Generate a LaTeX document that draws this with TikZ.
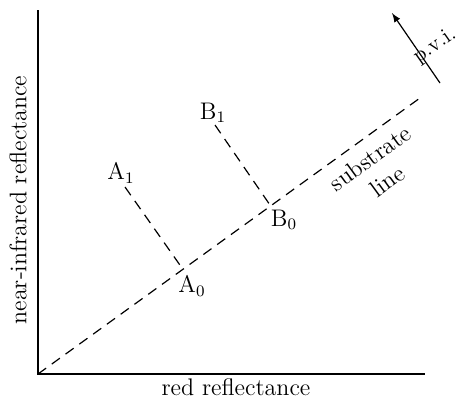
\documentclass[tikz,border=0pt]{standalone}
\usepackage{amsmath}
\usepackage{tikz}

\begin{document}
\begin{tikzpicture}[
  x=0.5pt, y=-0.5pt,
  every node/.style={font=\fontsize{12}{14}\selectfont},
  axis/.style={line width=1pt},
  perpline/.style={dashed, line width=0.6pt, dash pattern=on 5pt off 3.5pt}
]
  \useasboundingbox (0,0) rectangle (457,402);
  % axes
  \coordinate (O) at (38,374);
  \coordinate (ytop) at (38,10);
  \coordinate (xend) at (425,374);
  \draw[axis] (ytop) -- (O) -- (xend);
  \node[rotate=90] (ylab) at (18,200) {near-infrared reflectance};
  \node (xlab) at (236,387) {red reflectance};
  % substrate line
  \coordinate (S) at (420,98);
  \draw[perpline] (O) -- (S);
  \node[rotate=36, inner sep=0pt] (slab1) at (370,158) {substrate};
  \node[rotate=36, inner sep=0pt] (slab2) at (387,181) {line};
  % points
  \coordinate (A0) at (182,268);
  \coordinate (A1) at (125,187);
  \coordinate (B0) at (270,205);
  \coordinate (B1) at (215,125);
  \draw[perpline] (A1) -- (A0);
  \draw[perpline] (B1) -- (B0);
  \node (A0lab) at (192,286) {A$_0$};
  \node (B0lab) at (284,220) {B$_0$};
  \node (A1lab) at (121,173) {A$_1$};
  \node (B1lab) at (213,113) {B$_1$};
  % p.v.i.
  \coordinate (P0) at (440,83);
  \coordinate (P1) at (392,13);
  \draw[-latex, line width=0.6pt] (P0) -- (P1);
  \node[rotate=35, inner sep=0pt, font=\fontsize{11}{13}\selectfont] (pvi) at (435,46) {p.v.i.};

\end{tikzpicture}
\end{document}
